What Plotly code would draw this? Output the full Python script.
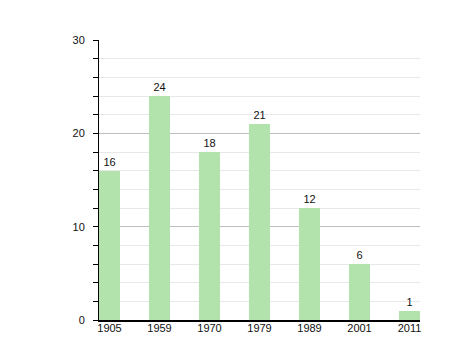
import plotly.graph_objects as go

years = ["1905", "1959", "1970", "1979", "1989", "2001", "2011"]
values = [16, 24, 18, 21, 12, 6, 1]

fig = go.Figure(go.Bar(
    x=years, y=values, width=0.42,
    marker=dict(color="#b2e3ad", line=dict(width=0)),
    text=[str(v) for v in values], textposition="outside",
    textfont=dict(color="#111", size=11, family="Liberation Sans, Arial"),
    cliponaxis=False,
))

fig.update_layout(
    width=458, height=360,
    margin=dict(l=91, r=46, t=32, b=48),
    paper_bgcolor="white", plot_bgcolor="white",
    showlegend=False,
    font=dict(family="Liberation Sans, Arial", size=11, color="#111"),
    bargap=0,
)
fig.update_xaxes(
    type="category", range=[-0.21, 6.21],
    showline=True, linecolor="#000", linewidth=1.5,
    ticks="", showgrid=False, ticklabelstandoff=-3,
    tickfont=dict(size=11),
)
fig.update_yaxes(
    range=[0, 30], dtick=10, tick0=0,
    showline=True, linecolor="#000", linewidth=1,
    ticks="outside", ticklen=5, tickcolor="#000",
    gridcolor="#bdbdbd", gridwidth=1,
    zeroline=False,
    minor=dict(dtick=2, showgrid=True, gridcolor="#e8e8e8",
               ticks="outside", ticklen=5, tickcolor="#000"),
    tickfont=dict(size=11),
    ticklabelstandoff=6,
)

fig.write_html("out.html")
